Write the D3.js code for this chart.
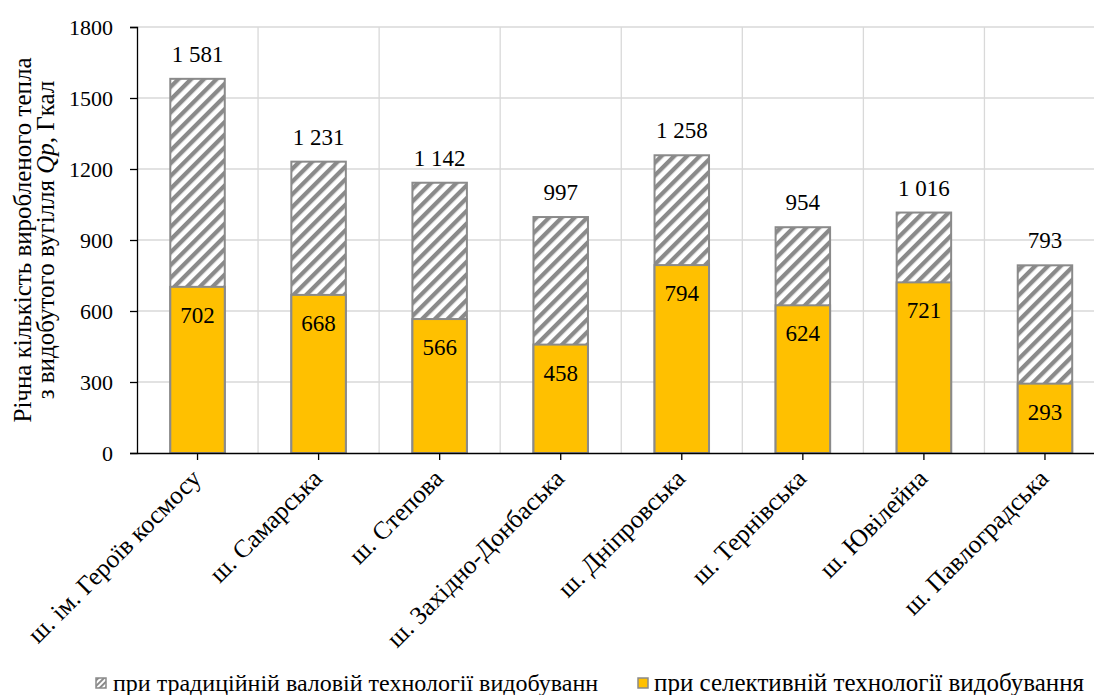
<!DOCTYPE html>
<html>
<head>
<meta charset="utf-8">
<script src="https://cdn.jsdelivr.net/npm/d3@7"></script>
<style>
  html, body { margin: 0; padding: 0; background: #fff; }
  svg text { font-family: "Liberation Serif", Tinos, "Times New Roman", serif !important; }
</style>
</head>
<body>
<svg id="chart" width="1094" height="695" style="display:block"></svg>
<script>
const categories = ["ш. ім. Героїв космосу", "ш. Самарська", "ш. Степова", "ш. Західно-Донбаська", "ш. Дніпровська", "ш. Тернівська", "ш. Ювілейна", "ш. Павлоградська"];
const traditional = [1581, 1231, 1142, 997, 1258, 954, 1016, 793];
const selective = [702, 668, 566, 458, 794, 624, 721, 293];
const yTicks = [0, 300, 600, 900, 1200, 1500, 1800];
const seriesNames = ["при традиційній валовій технології видобуванн", "при селективній технології видобування"];

const svg = d3.select("#chart");
const pLeft = 137, pRight = 1105.5, pTop = 27, pBottom = 453;

const x = d3.scaleBand().domain(categories).range([pLeft, pRight]).paddingInner(0.55).paddingOuter(0.275);
const y = d3.scaleLinear().domain([0, 1800]).range([pBottom, pTop]);
const fmt = d3.formatLocale({decimal: ",", thousands: " ", grouping: [3], currency: ["", ""]}).format(",d");

const defs = svg.append("defs");
const pat = defs.append("pattern").attr("id", "hatch").attr("patternUnits", "userSpaceOnUse")
  .attr("width", 9).attr("height", 9).attr("patternTransform", "rotate(45)");
pat.append("rect").attr("width", 9).attr("height", 9).attr("fill", "#fff");
pat.append("rect").attr("x", 0).attr("width", 4.3).attr("height", 9).attr("fill", "#8a8a8a");

const pat2 = defs.append("pattern").attr("id", "hatchSmall").attr("patternUnits", "userSpaceOnUse")
  .attr("width", 4).attr("height", 4).attr("patternTransform", "rotate(45)");
pat2.append("rect").attr("width", 4).attr("height", 4).attr("fill", "#fff");
pat2.append("rect").attr("width", 2).attr("height", 4).attr("fill", "#8a8a8a");

// horizontal gridlines
svg.append("g").selectAll("line").data(yTicks.filter(d => d > 0)).join("line")
  .attr("x1", pLeft).attr("x2", pRight).attr("y1", d => y(d)).attr("y2", d => y(d))
  .attr("stroke", "#d9d9d9").attr("stroke-width", 1.3);

// vertical gridlines at category boundaries
const step = x.step();
svg.append("g").selectAll("line").data(categories.slice(1)).join("line")
  .attr("x1", d => x(d) + x.bandwidth() / 2 - step / 2)
  .attr("x2", d => x(d) + x.bandwidth() / 2 - step / 2)
  .attr("y1", y(1800)).attr("y2", y(0))
  .attr("stroke", "#d9d9d9").attr("stroke-width", 1.3);

// traditional technology bars (behind, hatched)
svg.append("g").selectAll("rect").data(traditional).join("rect")
  .attr("x", (d, i) => x(categories[i])).attr("width", x.bandwidth())
  .attr("y", d => y(d)).attr("height", d => y(0) - y(d))
  .attr("fill", "url(#hatch)").attr("stroke", "#8a8a8a").attr("stroke-width", 2);

// selective technology bars (front)
svg.append("g").selectAll("rect").data(selective).join("rect")
  .attr("x", (d, i) => x(categories[i])).attr("width", x.bandwidth())
  .attr("y", d => y(d)).attr("height", d => y(0) - y(d))
  .attr("fill", "#ffc000").attr("stroke", "#8a8a8a").attr("stroke-width", 2);

// value labels
svg.append("g").selectAll("text").data(traditional).join("text")
  .attr("x", (d, i) => x(categories[i]) + x.bandwidth() / 2)
  .attr("y", d => y(d) - 17)
  .attr("text-anchor", "middle").attr("font-size", 23).attr("fill", "#000")
  .text(d => fmt(d));
svg.append("g").selectAll("text").data(selective).join("text")
  .attr("x", (d, i) => x(categories[i]) + x.bandwidth() / 2)
  .attr("y", d => y(d) + 36)
  .attr("text-anchor", "middle").attr("font-size", 23).attr("fill", "#000")
  .text(d => d);

// y axis
const yAxis = svg.append("g").attr("transform", `translate(${pLeft},0)`)
  .call(d3.axisLeft(y).tickValues(yTicks).tickSize(7).tickPadding(17).tickFormat(d3.format("d")));
yAxis.attr("font-family", null);
yAxis.select(".domain").attr("stroke", "#000").attr("stroke-width", 1.3);
yAxis.selectAll(".tick line").attr("stroke", "#000").attr("stroke-width", 1.3);
yAxis.selectAll(".tick text").attr("font-size", 22).attr("fill", "#000");

// x axis
const xAxis = svg.append("g").attr("transform", `translate(0,${pBottom})`)
  .call(d3.axisBottom(x).tickSize(7).tickSizeOuter(0).tickFormat(""));
xAxis.select(".domain").attr("stroke", "#000").attr("stroke-width", 1.3);
xAxis.selectAll(".tick line").attr("stroke", "#000").attr("stroke-width", 1.3);

svg.append("g").selectAll("text").data(categories).join("text")
  .attr("transform", d => `translate(${x(d) + x.bandwidth() / 2 + 5},${pBottom + 27}) rotate(-45)`)
  .attr("text-anchor", "end").attr("font-size", 25.5).attr("fill", "#000")
  .text(d => d);

// y title
const yt = svg.append("text").attr("transform", "translate(22,240) rotate(-90)")
  .attr("text-anchor", "middle").attr("font-size", 25).attr("fill", "#000");
yt.append("tspan").attr("x", 0).attr("dy", "0.35em").text("Річна кількість виробленого тепла");
const l2 = yt.append("tspan").attr("x", 0).attr("dy", 23);
l2.append("tspan").text("з видобутого вугілля ");
l2.append("tspan").attr("font-style", "italic").text("Qp");
l2.append("tspan").text(", Гкал");

// legend
const legend = svg.append("g");
const legItems = [
  {name: seriesNames[0], fill: "url(#hatchSmall)", mx: 96, tx: 113, fs: 24},
  {name: seriesNames[1], fill: "#ffc000", mx: 638, tx: 654, fs: 25}
];
legItems.forEach(it => {
  legend.append("rect").attr("x", it.mx).attr("y", 678).attr("width", 10).attr("height", 10)
    .attr("fill", it.fill).attr("stroke", "#8a8a8a").attr("stroke-width", 1.5);
  legend.append("text").attr("x", it.tx).attr("y", 691).attr("font-size", it.fs).attr("fill", "#000")
    .text(it.name);
});
</script>
</body>
</html>
